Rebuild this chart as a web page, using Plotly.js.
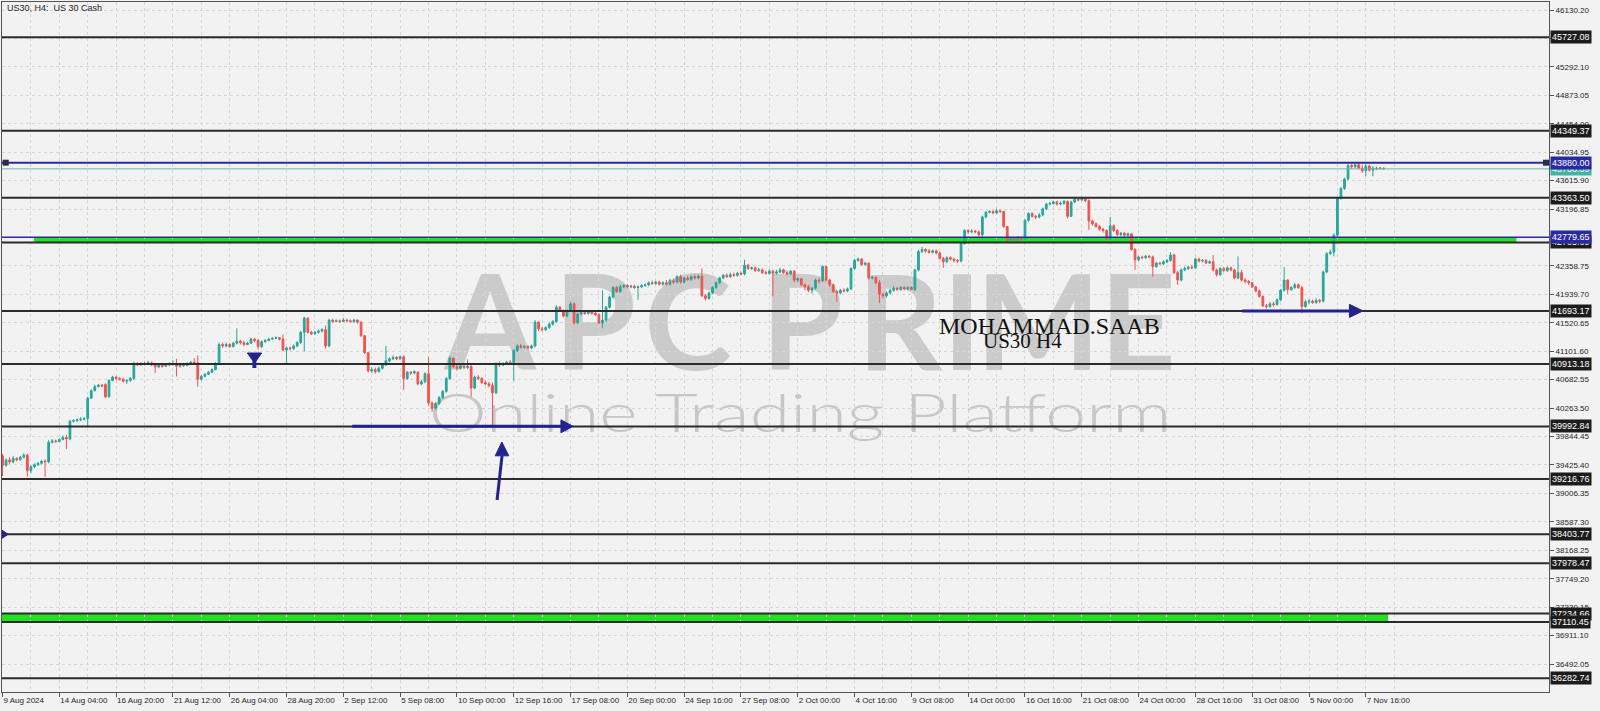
<!DOCTYPE html>
<html><head><meta charset="utf-8">
<script src="https://cdn.plot.ly/plotly-3.0.1.min.js"></script>
<style>html,body{margin:0;padding:0;background:#f2f2f2;overflow:hidden}#chart{width:1600px;height:711px}</style>
</head><body><div id="chart"></div>
<script>
// ---------------- DATA ----------------
const xTickLabels = ["9 Aug 2024","14 Aug 04:00","16 Aug 20:00","21 Aug 12:00","26 Aug 04:00","28 Aug 20:00","2 Sep 12:00","5 Sep 08:00","10 Sep 00:00","12 Sep 16:00","17 Sep 08:00","20 Sep 00:00","24 Sep 16:00","27 Sep 08:00","2 Oct 00:00","4 Oct 16:00","9 Oct 08:00","14 Oct 00:00","16 Oct 16:00","21 Oct 08:00","24 Oct 00:00","28 Oct 16:00","31 Oct 08:00","5 Nov 00:00","7 Nov 16:00"];
const barsPerLabel = 16;

const openP = [39560,39420,39500,39470,39520,39500,39540,39570,39340,39400,39430,39450,39480,39470,39760,39780,39770,39800,39830,39810,40070,40080,40090,40100,40110,40410,40520,40580,40600,40610,
40430,40670,40720,40700,40690,40660,40670,40700,40920,40900,40920,40910,40930,40900,40870,40900,40880,40910,40900,40920,40880,40910,40890,40920,40940,40930,40690,40730,40760,40790,
40830,40920,41200,41180,41200,41170,41220,41250,41230,41200,41220,41280,41260,41170,41240,41260,41280,41290,41300,41280,41120,41150,41140,41180,41230,41380,41590,41380,41360,41380,
41400,41420,41180,41560,41540,41550,41540,41560,41550,41540,41560,41530,41330,41080,40810,40830,40800,40850,40900,40960,40990,41010,40990,41020,40700,40790,40780,40790,40620,40650,
40770,40340,40260,40330,40420,40510,40700,41000,40870,40850,40880,40860,40880,40560,40720,40700,40640,40620,40600,40490,40920,40900,40920,40940,40930,41110,41180,41160,41170,41150,
41180,41530,41430,41420,41450,41500,41540,41750,41700,41620,41700,41800,41520,41650,41670,41660,41680,41660,41640,41520,41560,41750,41900,42040,41980,42050,42070,42050,42060,42040,
42050,42070,42080,42110,42100,42120,42090,42110,42090,42140,42120,42200,42120,42180,42160,42200,42180,42210,41920,41880,41960,42040,42110,42180,42220,42200,42230,42220,42250,42240,
42370,42320,42330,42290,42300,42260,42250,42280,42250,42270,42300,42260,42240,42280,42150,42170,42080,42050,42000,42030,42150,42140,42350,42150,42080,41980,41960,42000,41990,42020,
42320,42440,42460,42380,42400,42180,42190,42110,41940,41920,41960,42000,42030,42010,42040,42020,42040,42010,42300,42570,42600,42580,42560,42580,42550,42470,42420,42480,42460,42440,
42430,42690,42880,42860,42870,42860,42820,43080,43150,43160,43140,43170,43160,42940,42740,42760,42740,42770,42760,43030,43130,43090,43080,43110,43200,43270,43280,43300,43270,43280,
43310,43090,43300,43340,43330,43350,43320,43020,42980,42940,42900,42880,42760,42950,42880,42820,42840,42810,42830,42600,42450,42490,42480,42500,42490,42350,42400,42390,42420,42440,
42520,42260,42150,42300,42320,42340,42330,42460,42430,42440,42400,42420,42300,42230,42320,42290,42330,42300,42180,42260,42150,42130,42110,42050,41990,41910,41770,41760,41800,41790,
41860,42000,42150,42010,42040,42080,42040,41760,41830,41840,41820,41850,41840,42270,42540,42560,42810,43350,43500,43640,43840,43820,43850,43800,43760,43830,43770,43800,43790,43800];

const highP = [39590,39520,39540,39560,39540,39560,39600,39590,39420,39450,39470,39500,39510,39790,39810,39800,39820,39860,39870,40090,40100,40110,40130,40130,40430,40540,40610,40620,40620,40630,
40690,40740,40740,40720,40710,40690,40720,40950,40940,40940,40950,40960,40950,40920,40920,40930,40930,40940,40970,40990,40930,40930,40940,40960,41000,41040,40750,40780,40810,40850,
40940,41230,41230,41230,41220,41240,41440,41270,41250,41240,41300,41300,41280,41260,41280,41300,41310,41320,41310,41350,41170,41170,41200,41250,41400,41610,41600,41400,41400,41420,
41440,41480,41580,41580,41570,41570,41590,41580,41570,41580,41570,41540,41340,41090,40870,40860,40880,40920,41180,41010,41040,41030,41040,41040,40810,40810,40820,40810,40680,40790,
41020,40360,40350,40440,40530,40720,41030,41010,40900,40900,40910,40980,40890,40740,40750,40720,40670,40650,40640,40940,40950,40940,40960,40970,41130,41200,41210,41190,41190,41200,
41560,41540,41460,41470,41520,41560,41780,41770,41720,41720,41830,41820,41670,41690,41690,41700,41700,41690,41660,42000,41770,41920,42060,42060,42080,42090,42090,42080,42080,42070,
42090,42100,42130,42140,42140,42140,42130,42150,42170,42170,42220,42230,42200,42210,42220,42230,42230,42320,41940,41980,42060,42130,42200,42240,42250,42260,42260,42270,42280,42450,
42390,42350,42350,42330,42320,42290,42310,42300,42300,42330,42320,42290,42300,42300,42190,42180,42100,42080,42050,42170,42180,42370,42360,42170,42100,42000,42020,42030,42040,42340,
42460,42480,42470,42420,42410,42210,42200,42150,41960,41980,42020,42060,42050,42060,42060,42060,42060,42320,42600,42640,42620,42610,42600,42600,42570,42490,42500,42500,42480,42460,
42710,42900,42900,42900,42890,42880,43100,43170,43180,43180,43200,43190,43170,42950,42790,42780,42800,42790,43050,43150,43150,43110,43140,43220,43290,43300,43320,43320,43310,43330,
43320,43320,43360,43370,43370,43360,43340,43040,43000,42960,42920,42900,43080,42970,42900,42860,42860,42850,42840,42620,42510,42510,42520,42520,42510,42420,42420,42440,42460,42560,
42540,42290,42320,42350,42360,42370,42480,42480,42460,42460,42440,42520,42320,42340,42340,42350,42350,42320,42500,42300,42180,42150,42120,42060,42010,41920,41800,41830,41830,41880,
42020,42340,42160,42060,42110,42100,42060,41860,41870,41860,41880,41870,42290,42560,42600,42840,43370,43520,43660,43860,43860,43870,43880,43850,43860,43850,43830,43820,43820,43810];

const lowP = [39260,39400,39440,39450,39480,39490,39520,39250,39300,39380,39410,39430,39250,39450,39740,39750,39760,39790,39660,39790,40050,40060,40070,40080,39990,40400,40510,40570,40570,40410,
40420,40660,40680,40670,40640,40620,40650,40680,40880,40890,40890,40900,40880,40780,40850,40860,40870,40880,40890,40730,40860,40870,40880,40900,40910,40580,40670,40720,40750,40780,
40820,40900,41150,41160,41150,41160,41200,41200,41180,41190,41210,41230,41130,41150,41230,41250,41270,41280,41260,41100,40900,41110,41120,41160,41210,41100,41360,41340,41340,41360,
41380,41140,41160,41520,41530,41520,41530,41530,41520,41520,41510,41310,41060,40790,40780,40770,40790,40830,40880,40940,40970,40970,40970,40530,40680,40750,40760,40600,40600,40630,
40300,40210,40240,40310,40400,40490,40680,40850,40820,40830,40840,40840,40430,40540,40680,40620,40600,40570,40010,40470,40870,40880,40900,40900,40670,41090,41140,41140,41130,41130,
41160,41400,41390,41400,41430,41480,41520,41680,41600,41600,41680,41490,41500,41630,41640,41640,41640,41620,41500,41440,41540,41730,41880,41960,41960,42030,42030,42030,42020,41860,
42030,42050,42060,42080,42080,42070,42070,42070,42070,42090,42100,42100,42100,42140,42140,42160,42160,41900,41850,41860,41940,42020,42090,42160,42180,42180,42200,42200,42220,42220,
42300,42300,42270,42270,42240,42230,42230,41910,42230,42250,42240,42220,42220,42120,42120,42060,42000,41970,41950,42010,42100,42120,42130,42050,41960,41830,41940,41970,41970,42000,
42300,42420,42360,42360,42160,42160,42090,41810,41880,41890,41940,41980,41990,41990,42000,42000,42000,41990,42280,42550,42550,42540,42540,42530,42450,42330,42400,42440,42410,42400,
42410,42670,42830,42840,42840,42790,42760,43060,43130,43120,43120,43140,42920,42710,42720,42700,42720,42730,42740,43010,43070,43050,43060,43090,43180,43250,43260,43250,43250,43260,
43060,43080,43290,43310,43320,43300,42890,42950,42920,42880,42850,42740,42740,42860,42800,42800,42790,42790,42580,42300,42430,42460,42460,42470,42200,42330,42370,42370,42400,42420,
42240,42080,42130,42280,42300,42310,42320,42410,42410,42390,42390,42280,42200,42210,42270,42270,42280,42160,42160,42130,42100,42080,42030,41970,41890,41750,41730,41740,41760,41770,
41840,41980,41950,41990,42020,42020,41660,41740,41800,41800,41800,41810,41820,42250,42520,42500,42790,43340,43480,43620,43790,43800,43780,43730,43680,43750,43680,43770,43780,43780];

const closeP = [39420,39500,39470,39520,39500,39540,39570,39340,39400,39430,39450,39480,39470,39760,39780,39770,39800,39830,39810,40070,40080,40090,40100,40110,40410,40520,40580,40600,40590,40430,
40670,40720,40700,40690,40660,40670,40700,40920,40900,40920,40910,40930,40900,40870,40900,40880,40910,40900,40920,40880,40910,40890,40920,40940,40930,40690,40730,40760,40790,40830,
40920,41200,41180,41200,41170,41220,41250,41230,41200,41220,41280,41260,41170,41240,41260,41280,41290,41300,41280,41120,41150,41140,41180,41230,41380,41590,41380,41360,41380,41400,
41420,41180,41560,41540,41550,41540,41560,41550,41540,41560,41530,41330,41080,40810,40830,40800,40850,40900,40960,40990,41010,40990,41020,40700,40790,40780,40800,40620,40650,40770,
40340,40260,40330,40420,40510,40700,41000,40870,40850,40880,40860,40880,40560,40720,40700,40640,40620,40600,40490,40920,40900,40920,40940,40930,41110,41180,41160,41170,41150,41180,
41530,41430,41420,41450,41500,41540,41750,41700,41620,41700,41800,41520,41650,41670,41660,41680,41660,41640,41520,41560,41750,41900,42040,41980,42050,42070,42050,42060,42040,42050,
42070,42080,42110,42100,42120,42090,42110,42090,42140,42120,42200,42120,42180,42160,42200,42180,42210,41920,41880,41960,42040,42110,42180,42220,42200,42230,42220,42250,42240,42370,
42320,42330,42290,42300,42260,42250,42280,42250,42270,42300,42260,42240,42280,42150,42170,42080,42050,42000,42030,42150,42140,42350,42150,42080,41980,41960,42000,41990,42020,42320,
42440,42460,42380,42400,42180,42190,42110,41940,41920,41960,42000,42030,42010,42040,42020,42040,42010,42300,42570,42600,42580,42560,42580,42550,42470,42420,42480,42460,42440,42430,
42690,42880,42860,42870,42860,42820,43080,43150,43160,43140,43170,43160,42940,42740,42760,42740,42770,42760,43030,43130,43090,43080,43110,43200,43270,43280,43300,43270,43280,43310,
43090,43300,43340,43330,43350,43320,43020,42980,42940,42900,42880,42760,42950,42880,42820,42840,42810,42830,42600,42450,42490,42480,42500,42490,42350,42400,42390,42420,42440,42520,
42260,42150,42300,42320,42340,42330,42460,42430,42440,42400,42420,42300,42230,42320,42290,42330,42300,42180,42260,42150,42130,42110,42050,41990,41910,41770,41760,41800,41790,41860,
42000,42150,42010,42040,42080,42040,41760,41830,41840,41820,41850,41840,42270,42540,42560,42810,43350,43500,43640,43840,43820,43850,43800,43760,43830,43770,43800,43790,43800,43788.59];

const yTickValues = [36492.05,36911.10,37330.15,37749.20,38168.25,38587.30,39006.35,39425.40,39844.45,40263.50,40682.55,41101.60,41520.65,41939.70,42358.75,42777.80,43196.85,43615.90,44034.95,44454.00,44873.05,45292.10,45711.15,46130.20];
const yTickLabels = ["36492.05","36911.10","37330.15","37749.20","38168.25","38587.30","39006.35","39425.40","39844.45","40263.50","40682.55","41101.60","41520.65","41939.70","42358.75","42777.80","43196.85","43615.90","44034.95","44454.00","44873.05","45292.10","45711.15","46130.20"];

const blackLevels = [45727.08,44349.37,43363.50,42705.09,41693.17,40913.18,39992.84,39216.76,38403.77,37978.47,37234.66,37110.45,36282.74];
const blackLevelLabels = ["45727.08","44349.37","43363.50","42705.09","41693.17","40913.18","39992.84","39216.76","38403.77","37978.47","37234.66","37110.45","36282.74"];
const blueLevels = [43880.00,42779.65];
const blueLevelLabels = ["43880.00","42779.65"];
const currentPrice = 43788.59;
const currentPriceLabel = "43788.59";

// ---------------- LAYOUT HELPERS ----------------
const PL = 2, PR = 1549, PT = 2, PB = 692;          // plot area in pixels
const px = x => (x - PL) / (PR - PL);                // pixel -> paper x
const py = y => (PB - y) / (PB - PT);                // pixel -> paper y
const NAVY = '#23238f';

const barIndex = closeP.map((_, i) => i);
const xTickVals = xTickLabels.map((_, k) => k * barsPerLabel);
const xMinorVals = xTickLabels.map((_, k) => k * barsPerLabel + barsPerLabel / 2);

const shapes = [];

// watermark letters (drawn below the candles)
const wm = [["A",490],["P",595],["C",688],["P",802],["R",900],["I",962],["M",1038],["E",1138]];
wm.forEach(([t, cx]) => {
  shapes.push({type:'rect', xref:'paper', yref:'paper', layer:'below',
    x0:px(cx-60), x1:px(cx+60), y0:py(317+60), y1:py(317-60),
    line:{width:0}, fillcolor:'rgba(0,0,0,0)',
    label:{text:t, textposition:'middle center', font:{family:'Lato', size:132, color:'#cbcbcb', weight:700}}});
});
shapes.push({type:'rect', xref:'paper', yref:'paper', layer:'below',
  x0:px(420), x1:px(1180), y0:py(445), y1:py(377), line:{width:0}, fillcolor:'rgba(0,0,0,0)',
  label:{text:'Online Trading Platform', textposition:'middle center', font:{family:'Lato', size:54, color:'#c6c6c6', weight:300}}});

// green zones
shapes.push({type:'rect', xref:'x', yref:'y', layer:'below', x0:8.9, x1:426.4, y0:blackLevels[3], y1:blueLevels[1], fillcolor:'#22e022', line:{width:0}});
shapes.push({type:'rect', xref:'x', yref:'y', layer:'below', x0:-0.14, x1:390.3, y0:blackLevels[11], y1:blackLevels[10], fillcolor:'#22e022', line:{width:0}});

// horizontal levels
blackLevels.forEach(v => shapes.push({type:'line', xref:'paper', x0:0, x1:1, yref:'y', y0:v, y1:v, line:{color:'#2b2b2b', width:2}}));
shapes.push({type:'line', xref:'paper', x0:0, x1:1, yref:'y', y0:currentPrice, y1:currentPrice, line:{color:'#5dbcae', width:1}});
shapes.push({type:'line', xref:'paper', x0:0, x1:1, yref:'y', y0:blueLevels[0], y1:blueLevels[0], line:{color:'#2a2a9c', width:2}});
shapes.push({type:'line', xref:'paper', x0:0, x1:1, yref:'y', y0:blueLevels[1], y1:blueLevels[1], line:{color:'#2a2a9c', width:1.5}});

// squares on the 43880 line
[[0.05,1.75],[433.9,435.6]].forEach(([a,b]) => shapes.push({type:'rect', xref:'x', yref:'y', x0:a, x1:b, y0:blueLevels[0]-44, y1:blueLevels[0]+44, fillcolor:'#2b2b4f', line:{width:0}}));

// arrows
shapes.push({type:'line', xref:'x', yref:'y', x0:98.5, x1:157.8, y0:39995, y1:39995, line:{color:NAVY, width:3}});
shapes.push({type:'path', xref:'x', yref:'y', path:'M157.3,40090 L160.7,39995 L157.3,39900 Z', fillcolor:NAVY, line:{color:NAVY, width:1}});
shapes.push({type:'line', xref:'x', yref:'y', x0:349.2, x1:379.8, y0:41696, y1:41696, line:{color:NAVY, width:3}});
shapes.push({type:'path', xref:'x', yref:'y', path:'M379.4,41792 L383.2,41696 L379.4,41600 Z', fillcolor:NAVY, line:{color:NAVY, width:1}});
shapes.push({type:'line', xref:'x', yref:'y', x0:139.3, x1:140.7, y0:38909, y1:39560, line:{color:NAVY, width:3}});
shapes.push({type:'path', xref:'x', yref:'y', path:'M138.8,39560 L140.65,39764 L142.6,39560 Z', fillcolor:NAVY, line:{color:NAVY, width:1}});
// down marker
shapes.push({type:'path', xref:'x', yref:'y', path:'M68.95,41075 L73.0,41075 L71.0,40928 Z', fillcolor:NAVY, line:{color:NAVY, width:1}});
shapes.push({type:'rect', xref:'x', yref:'y', x0:70.4, x1:71.5, y0:40854, y1:40960, fillcolor:NAVY, line:{width:0}});
// small left triangle
shapes.push({type:'path', xref:'x', yref:'y', path:'M-0.14,38463 L1.6,38403.77 L-0.14,38344 Z', fillcolor:NAVY, line:{color:NAVY, width:1}});

// annotations
const annotations = [];
annotations.push({xref:'paper', yref:'paper', x:px(5), y:py(8), xanchor:'left', yanchor:'middle', showarrow:false,
  text:'US30, H4:  US 30 Cash', font:{family:'Liberation Sans', size:9, color:'#1e1e1e'}});
annotations.push({xref:'paper', yref:'paper', x:px(1049), y:py(326), xanchor:'center', yanchor:'middle', showarrow:false,
  text:'MOHAMMAD.SAAB', font:{family:'Liberation Serif', size:24, color:'#111'}});
annotations.push({xref:'paper', yref:'paper', x:px(1022), y:py(341), xanchor:'center', yanchor:'middle', showarrow:false,
  text:'US30 H4', font:{family:'Liberation Serif', size:21, color:'#111'}});

const boxLabel = (v, t, bg) => ({xref:'paper', yref:'y', x:1, y:v, xanchor:'left', yanchor:'middle', xshift:1, showarrow:false,
  text:t, bgcolor:bg, borderpad:1, font:{family:'Liberation Sans', size:9, color:'#ffffff'}});
blackLevels.forEach((v, k) => annotations.push(boxLabel(v, blackLevelLabels[k], '#1c1c1c')));
annotations.push(boxLabel(currentPrice, currentPriceLabel, '#45b3a4'));
blueLevels.forEach((v, k) => annotations.push(boxLabel(v, blueLevelLabels[k], '#2a2aa0')));

const trace = {
  type:'candlestick', x:barIndex, open:openP, high:highP, low:lowP, close:closeP,
  increasing:{line:{color:'#26a69a', width:1}, fillcolor:'#26a69a'},
  decreasing:{line:{color:'#ef5350', width:1}, fillcolor:'#ef5350'},
  whiskerwidth:0, hoverinfo:'skip', showlegend:false
};

const gridCol = '#d6d6d6';
const layout = {
  width:1600, height:711,
  margin:{l:PL, r:1600-PR, t:PT, b:711-PB, pad:0},
  paper_bgcolor:'#f2f2f2', plot_bgcolor:'#f2f2f2',
  showlegend:false, boxgap:0.3,
  xaxis:{range:[-0.14, 435.6], tickmode:'array', tickvals:xTickVals, ticktext:xTickLabels,
    ticks:'outside', ticklen:4, tickcolor:'#555', ticklabelposition:'outside right', tickangle:0,
    tickfont:{family:'Liberation Sans', size:8, color:'#1e1e1e'},
    showgrid:true, gridcolor:gridCol, griddash:'dot', gridwidth:1,
    minor:{tickmode:'array', tickvals:xMinorVals, showgrid:true, gridcolor:gridCol, griddash:'dot', ticklen:0},
    showline:true, mirror:true, linecolor:'#555', linewidth:1, zeroline:false,
    rangeslider:{visible:false}, fixedrange:true, automargin:false},
  yaxis:{range:[36079.4, 46248.1], side:'right', tickmode:'array', tickvals:yTickValues, ticktext:yTickLabels,
    ticks:'outside', ticklen:4, tickcolor:'#555',
    tickfont:{family:'Liberation Sans', size:8, color:'#1e1e1e'},
    showgrid:true, gridcolor:gridCol, griddash:'dot', gridwidth:1,
    showline:true, mirror:true, linecolor:'#555', linewidth:1, zeroline:false, fixedrange:true, automargin:false},
  shapes:shapes, annotations:annotations
};

Plotly.newPlot('chart', [trace], layout, {staticPlot:true, displayModeBar:false}).then(gd => {
  // the watermark subtitle in the reference is horizontally stretched
  gd.querySelectorAll('text').forEach(t => {
    if (t.textContent === 'Online Trading Platform') {
      t.style.transformBox = 'fill-box';
      t.style.transformOrigin = 'center';
      t.style.transform = 'scaleX(1.36)';
    }
  });
});
</script>
</body></html>
